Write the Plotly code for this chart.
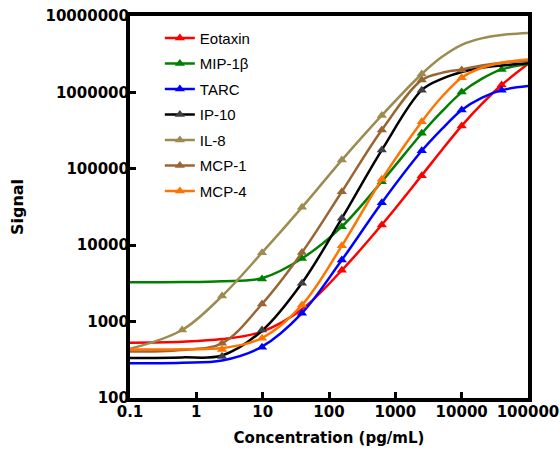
import plotly.graph_objects as go

# Concentrations (pg/mL) where fitted curves are read
conc_fit = [0.1, 0.61, 2.44, 9.77, 39.1, 156, 625, 2500, 5000, 10000, 20000, 40000, 100000]

series_names = ["Eotaxin", "MIP-1β", "TARC", "IP-10", "IL-8", "MCP-1", "MCP-4"]
series_colors = ["#ff0000", "#008000", "#0000ff", "#000000", "#9b8c50", "#996633", "#ff7300"]
marker_colors = ["#ff0000", "#008000", "#0000ff", "#404040", "#9b8c50", "#996633", "#ff7300"]

# Fitted curve values (signal) at conc_fit
eotaxin_fit = [530, 545, 590, 740, 1450, 4700, 18500, 82000, 175000, 365000, 700000, 1250000, 2350000]
mip1b_fit = [3270, 3290, 3380, 3700, 6700, 17500, 68000, 290000, 560000, 1000000, 1500000, 2000000, 2350000]
tarc_fit = [285, 290, 310, 470, 1290, 6400, 36000, 172000, 330000, 590000, 850000, 1070000, 1210000]
ip10_fit = [335, 340, 360, 760, 3200, 22500, 176000, 1070000, 1500000, 1850000, 2100000, 2250000, 2400000]
il8_fit = [440, 776, 2160, 7980, 31300, 130000, 500000, 1740000, 2900000, 4200000, 5100000, 5650000, 6000000]
mcp1_fit = [405, 425, 520, 1700, 8000, 50000, 322000, 1450000, 1800000, 2000000, 2250000, 2450000, 2600000]
mcp4_fit = [430, 435, 450, 610, 1650, 9800, 72800, 414000, 870000, 1560000, 2100000, 2450000, 2700000]

# Measured points (triangles)
eotaxin_x = [156, 625, 2500, 10000, 40000]
eotaxin_y = [4700, 18400, 81000, 363000, 1250000]
mip1b_x = [9.77, 39.1, 156, 625, 2500, 10000, 40000]
mip1b_y = [3610, 6700, 17500, 67800, 292000, 1010000, 2000000]
tarc_x = [9.77, 39.1, 156, 625, 2500, 10000, 40000]
tarc_y = [461, 1290, 6400, 36000, 172000, 589000, 1070000]
ip10_x = [2.44, 9.77, 39.1, 156, 625, 2500]
ip10_y = [348, 776, 3170, 22500, 176000, 1070000]
il8_x = [0.61, 2.44, 9.77, 39.1, 156, 625, 2500]
il8_y = [776, 2160, 7980, 31300, 130000, 500000, 1740000]
mcp1_x = [2.44, 9.77, 39.1, 156, 625, 2500, 10000]
mcp1_y = [520, 1700, 8000, 50000, 322000, 1450000, 1960000]
mcp4_x = [2.44, 9.77, 39.1, 156, 625, 2500, 10000]
mcp4_y = [432, 604, 1650, 9800, 72800, 414000, 1560000]

x_tick_vals = [0.1, 1, 10, 100, 1000, 10000, 100000]
x_tick_text = ["0.1", "1", "10", "100", "1000", "10000", "100000"]
y_tick_vals = [100, 1000, 10000, 100000, 1000000, 10000000]
y_tick_text = ["100", "1000", "10000", "100000", "1000000", "10000000"]

fits = [eotaxin_fit, mip1b_fit, tarc_fit, ip10_fit, il8_fit, mcp1_fit, mcp4_fit]
pts = [(eotaxin_x, eotaxin_y), (mip1b_x, mip1b_y), (tarc_x, tarc_y), (ip10_x, ip10_y),
       (il8_x, il8_y), (mcp1_x, mcp1_y), (mcp4_x, mcp4_y)]

fig = go.Figure()
for name, col, mcol, fy, (px, py) in zip(series_names, series_colors, marker_colors, fits, pts):
    fig.add_trace(go.Scatter(x=conc_fit, y=fy, mode="lines", line=dict(color=col, width=2.5, shape="spline", smoothing=1.0),
                             showlegend=False, legendgroup=name, hoverinfo="skip"))
    fig.add_trace(go.Scatter(x=px, y=py, mode="markers", marker=dict(symbol="triangle-up", size=9, color=mcol),
                             showlegend=False, legendgroup=name))
    fig.add_trace(go.Scatter(x=[None], y=[None], mode="lines+markers", name=name, legendgroup=name,
                             line=dict(color=col, width=2.5),
                             marker=dict(symbol="triangle-up", size=9, color=mcol)))

tick_font = dict(family="DejaVu Sans", size=15, color="black", weight="bold")
fig.update_xaxes(type="log", range=[-1, 5], tickvals=x_tick_vals, ticktext=x_tick_text,
                 showline=True, linecolor="black", linewidth=4, mirror=True,
                 ticks="inside", ticklen=6, tickwidth=3, tickcolor="black", ticklabelstandoff=-3,
                 showgrid=False, zeroline=False, tickfont=tick_font, automargin=False,
                 title=dict(text="Concentration (pg/mL)", font=dict(family="DejaVu Sans", size=15, color="black", weight="bold"), standoff=13))
fig.update_yaxes(type="log", range=[2, 7], tickvals=y_tick_vals, ticktext=y_tick_text,
                 showline=True, linecolor="black", linewidth=4, mirror=True,
                 ticks="inside", ticklen=6, tickwidth=3, tickcolor="black", ticklabelstandoff=-6,
                 showgrid=False, zeroline=False, tickfont=tick_font, automargin=False,
                 title=dict(text="Signal", font=dict(family="DejaVu Sans", size=16, color="black", weight="bold"), standoff=19))

fig.update_layout(
    width=560, height=456,
    margin=dict(l=130, r=32, t=16, b=58),
    paper_bgcolor="white", plot_bgcolor="white",
    showlegend=True,
    legend=dict(x=0.075, y=0.985, xanchor="left", yanchor="top", bgcolor="rgba(0,0,0,0)",
                font=dict(family="Liberation Sans", size=15, color="black"), tracegroupgap=3,
                itemwidth=30),
)

fig.write_html("out.html", config={"displayModeBar": False},
               post_script="document.body.style.margin='0';document.body.style.overflow='hidden';")
